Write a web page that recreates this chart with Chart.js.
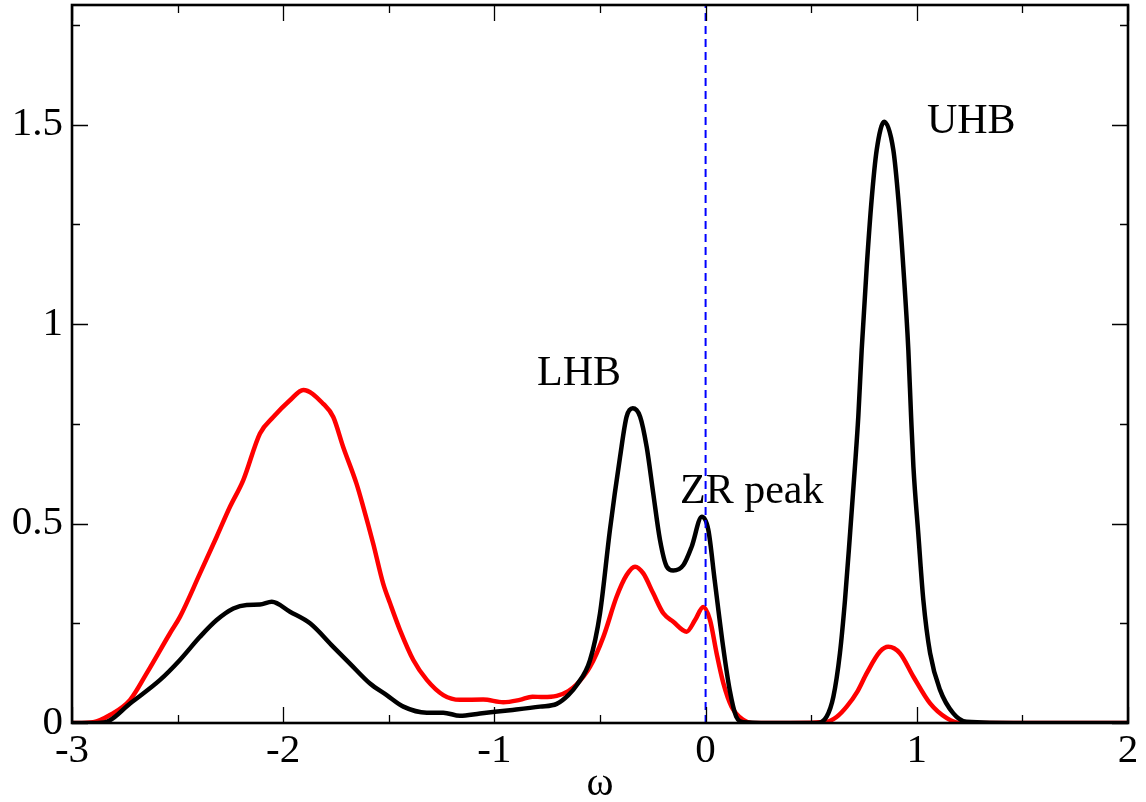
<!DOCTYPE html>
<html>
<head>
<meta charset="utf-8">
<script src="https://cdn.jsdelivr.net/npm/chart.js@4.4.1/dist/chart.umd.min.js"></script>
<style>
html,body{margin:0;padding:0;background:#fff;}
canvas{display:block;}
</style>
</head>
<body>
<canvas id="c" width="1146" height="802"></canvas>
<script>
// ---- data ----
const blackX = [-3.0,-2.9,-2.836,-2.725,-2.583,-2.489,-2.394,-2.315,-2.236,-2.173,-2.11,-2.054,-1.968,-1.873,-1.763,-1.684,-1.589,-1.51,-1.431,-1.32,-1.242,-1.163,-1.068,-0.926,-0.784,-0.705,-0.65,-0.61,-0.547,-0.5,-0.453,-0.405,-0.374,-0.345,-0.31,-0.279,-0.248,-0.216,-0.184,-0.153,-0.105,-0.066,-0.018,0.013,0.043,0.083,0.114,0.145,0.18,0.3,0.526,0.573,0.605,0.636,0.66,0.684,0.707,0.723,0.739,0.763,0.786,0.81,0.846,0.889,0.913,0.936,0.96,0.973,0.984,1.007,1.031,1.063,1.11,1.173,1.236,1.5,2.0];
const blackY = [0,0,0.003,0.049,0.108,0.158,0.216,0.258,0.287,0.296,0.297,0.304,0.279,0.25,0.191,0.149,0.099,0.07,0.041,0.026,0.026,0.018,0.024,0.032,0.041,0.048,0.07,0.095,0.158,0.275,0.484,0.667,0.768,0.789,0.768,0.692,0.576,0.459,0.392,0.382,0.396,0.442,0.517,0.484,0.358,0.191,0.083,0.016,0.002,0,0,0.016,0.066,0.175,0.308,0.475,0.642,0.768,0.935,1.144,1.311,1.436,1.507,1.436,1.311,1.144,0.935,0.768,0.642,0.475,0.308,0.175,0.083,0.024,0.003,0,0];

const redX = [-3.0,-2.9,-2.82,-2.725,-2.646,-2.536,-2.489,-2.394,-2.315,-2.252,-2.189,-2.11,-2.047,-1.968,-1.905,-1.81,-1.763,-1.716,-1.653,-1.621,-1.574,-1.527,-1.494,-1.447,-1.384,-1.32,-1.242,-1.163,-1.053,-0.958,-0.88,-0.82,-0.768,-0.705,-0.65,-0.61,-0.547,-0.484,-0.421,-0.374,-0.334,-0.295,-0.248,-0.2,-0.153,-0.09,-0.05,-0.011,0.021,0.052,0.084,0.123,0.178,0.22,0.4,0.573,0.62,0.668,0.72,0.763,0.826,0.865,0.92,0.984,1.063,1.142,1.205,1.5,2.0];
const redY = [0,0.002,0.02,0.058,0.125,0.225,0.266,0.375,0.467,0.542,0.609,0.726,0.767,0.809,0.835,0.80,0.767,0.692,0.60,0.542,0.45,0.35,0.30,0.233,0.158,0.108,0.07,0.058,0.059,0.052,0.058,0.066,0.065,0.068,0.08,0.097,0.141,0.216,0.317,0.371,0.392,0.375,0.325,0.275,0.254,0.229,0.258,0.291,0.258,0.175,0.10,0.041,0.008,0,0,0.003,0.015,0.041,0.08,0.125,0.179,0.191,0.175,0.116,0.049,0.012,0,0,0];

const fermiX = [0, 0];
const fermiY = [0, 1.8];

const xMajorTicks = [-3, -2, -1, 0, 1, 2];
const xTickLabels = ["-3", "-2", "-1", "0", "1", "2"];
const xMinorTicks = [-2.5, -1.5, -0.5, 0.5, 1.5];
const yMajorTicks = [0, 0.5, 1, 1.5];
const yTickLabels = ["0", "0.5", "1", "1.5"];
const yMinorTicks = [0.25, 0.75, 1.25, 1.75];

const labelTexts = ["LHB", "ZR peak", "UHB"];
const labelX = [-0.798, -0.121, 1.048];
const labelY = [0.847, 0.551, 1.479];

const xTitle = "ω";

// ---- build chart ----
const toPts = (xs, ys) => xs.map((x, i) => ({x: x, y: ys[i]}));
const FONT = "'Liberation Serif', 'Times New Roman', serif";

const framePlugin = {
  id: 'frame',
  afterDatasetsDraw(chart) {
    const {ctx, chartArea: a, scales: {x, y}} = chart;
    ctx.save();
    ctx.strokeStyle = '#000';
    ctx.lineWidth = 1.3;
    ctx.beginPath();
    const tick = (vals, len, isX) => {
      vals.forEach(v => {
        if (isX) {
          const px = Math.round(x.getPixelForValue(v)) + 0.5;
          ctx.moveTo(px, a.bottom); ctx.lineTo(px, a.bottom - len);
          ctx.moveTo(px, a.top); ctx.lineTo(px, a.top + len);
        } else {
          const py = Math.round(y.getPixelForValue(v)) + 0.5;
          ctx.moveTo(a.left, py); ctx.lineTo(a.left + len, py);
          ctx.moveTo(a.right, py); ctx.lineTo(a.right - len, py);
        }
      });
    };
    tick(xMajorTicks, 16, true);
    tick(xMinorTicks, 8, true);
    tick(yMajorTicks, 16, false);
    tick(yMinorTicks, 8, false);
    ctx.stroke();
    ctx.lineWidth = 2.6;
    ctx.strokeRect(a.left, a.top, a.right - a.left, a.bottom - a.top);
    // annotations
    ctx.fillStyle = '#000';
    ctx.font = "42px " + FONT;
    ctx.textAlign = 'left';
    ctx.textBaseline = 'alphabetic';
    labelTexts.forEach((t, i) => {
      ctx.fillText(t, x.getPixelForValue(labelX[i]), y.getPixelForValue(labelY[i]));
    });
    ctx.restore();
  }
};

new Chart(document.getElementById('c'), {
  type: 'line',
  data: {
    datasets: [
      {data: toPts(fermiX, fermiY), borderColor: '#0000ff', borderWidth: 2, borderDash: [8, 5], pointRadius: 0, order: 0},
      {data: toPts(blackX, blackY), borderColor: '#000000', borderWidth: 4.5, pointRadius: 0, cubicInterpolationMode: 'monotone', order: 1},
      {data: toPts(redX, redY), borderColor: '#ff0000', borderWidth: 4.5, pointRadius: 0, cubicInterpolationMode: 'monotone', order: 2}
    ]
  },
  options: {
    responsive: false,
    animation: false,
    events: [],
    layout: {padding: {top: 5, right: 18, left: 0, bottom: 0}},
    plugins: {legend: {display: false}, tooltip: {enabled: false}},
    scales: {
      x: {
        type: 'linear', min: -3, max: 2,
        afterBuildTicks: s => { s.ticks = xMajorTicks.map(v => ({value: v})); },
        afterFit: s => { s.height = 79; s.paddingLeft = 0; s.paddingRight = 0; },
        grid: {display: false, drawTicks: false},
        border: {display: false},
        ticks: {color: '#000', font: {family: FONT, size: 41}, padding: 4, maxRotation: 0, autoSkip: false,
                callback: (v, i) => xTickLabels[i]},
        title: {display: true, text: xTitle, color: '#000', font: {family: FONT, size: 41}, padding: {top: 0, bottom: -7}}
      },
      y: {
        type: 'linear', min: 0, max: 1.8,
        afterBuildTicks: s => { s.ticks = yMajorTicks.map(v => ({value: v})); },
        afterFit: s => { s.width = 72; s.paddingTop = 0; s.paddingBottom = 0; },
        grid: {display: false, drawTicks: false},
        border: {display: false},
        ticks: {color: '#000', font: {family: FONT, size: 41}, padding: 9,
                callback: (v, i) => yTickLabels[i]}
      }
    }
  },
  plugins: [framePlugin]
});
</script>
</body>
</html>
